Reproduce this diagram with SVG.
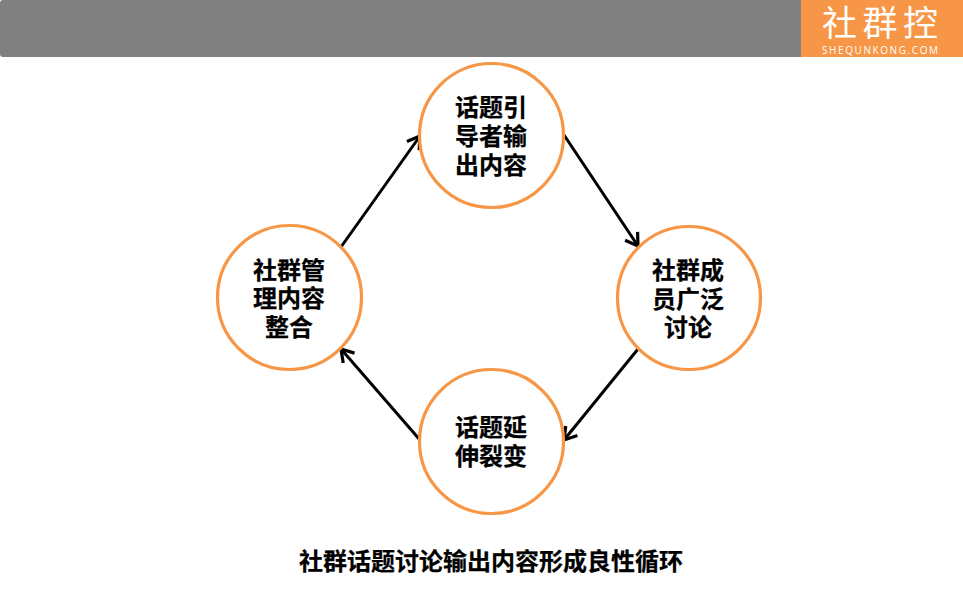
<svg xmlns="http://www.w3.org/2000/svg" width="963" height="590" viewBox="0 0 963 590">
<defs>
<style>
.n{fill:#fff;stroke:#f79646;stroke-width:3.2}
.t{font-family:"Noto Sans CJK SC","Liberation Sans",sans-serif;font-size:24px;font-weight:700;fill:#000;text-anchor:middle;stroke:#000;stroke-width:.25}
.c{fill:none;stroke:#000;stroke-width:3}
</style>
<marker id="a" markerUnits="userSpaceOnUse" markerWidth="24" markerHeight="24" refX="15" refY="12" orient="auto" overflow="visible"><path d="M3 4.500L15 12L3 19.500" fill="none" stroke="#000" stroke-width="3.200"/></marker>
</defs>
<rect width="963" height="590" fill="#fff"/>
<g id="header"><rect x="0" y="0" width="963" height="57" rx="3" fill="#808080"/></g>
<g id="logo"><rect x="801" y="0" width="162" height="57" fill="#f79646"/>
<text x="880" y="36" font-family="'Noto Sans CJK SC',sans-serif" font-size="35" font-weight="400" fill="#fff" text-anchor="middle" textLength="116" lengthAdjust="spacing">社群控</text>
<text x="880" y="54" font-family="'Open Sans','Liberation Sans',sans-serif" font-size="10" fill="#fff" text-anchor="middle" textLength="116">SHEQUNKONG.COM</text></g>
<g id="connectors">
<path class="c" marker-end="url(#a)" d="M341 247L420 136"/>
<path class="c" marker-end="url(#a)" d="M564 135L638 246"/>
<path class="c" marker-end="url(#a)" d="M638 349L564 440"/>
<path class="c" marker-end="url(#a)" d="M420 440L341 349"/>
</g>
<g id="node-top"><circle class="n" cx="491.500" cy="135.500" r="72"/><text class="t"><tspan x="491" y="116">话题引</tspan><tspan x="491" y="145">导者输</tspan><tspan x="491" y="174">出内容</tspan></text></g>
<g id="node-right"><circle class="n" cx="689" cy="298" r="71.500"/><text class="t"><tspan x="688" y="279">社群成</tspan><tspan x="688" y="308">员广泛</tspan><tspan x="688" y="336">讨论</tspan></text></g>
<g id="node-bottom"><circle class="n" cx="491.500" cy="441.500" r="72"/><text class="t"><tspan x="491" y="436">话题延</tspan><tspan x="491" y="465">伸裂变</tspan></text></g>
<g id="node-left"><circle class="n" cx="289.500" cy="297.500" r="72"/><text class="t"><tspan x="289" y="279">社群管</tspan><tspan x="289" y="307">理内容</tspan><tspan x="289" y="336">整合</tspan></text></g>
<g id="caption"><text class="t" x="491" y="570">社群话题讨论输出内容形成良性循环</text></g>
</svg>
